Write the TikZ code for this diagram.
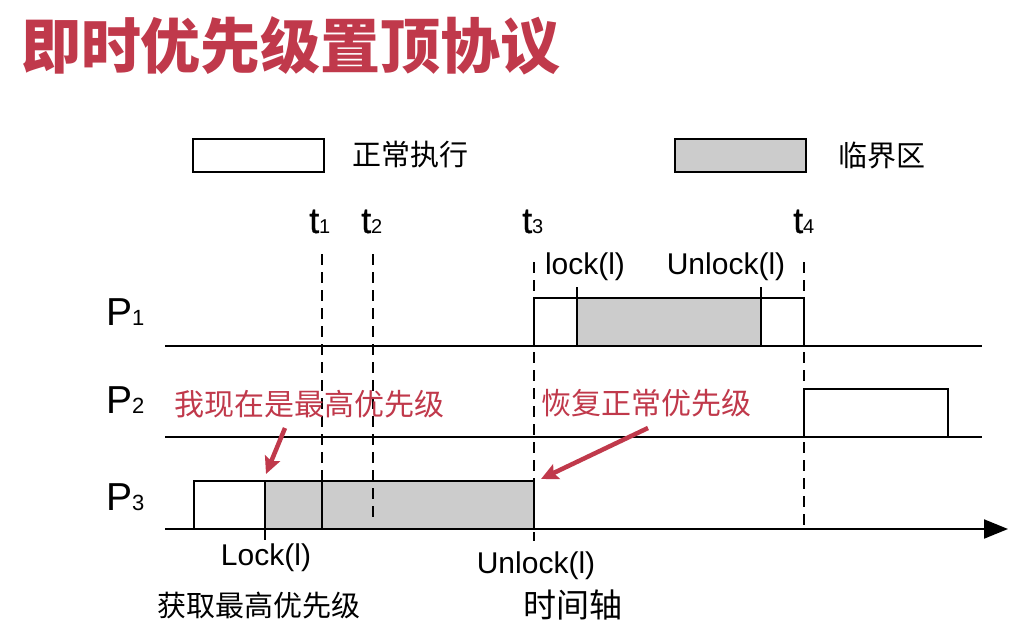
\documentclass[tikz,border=0pt]{standalone}
\usepackage{fontspec}
\setmainfont{Liberation Sans}
\newfontfamily\cjk{Noto Sans CJK SC}
\newfontfamily\tfont[FakeBold=0.7]{Liberation Sans}
\usetikzlibrary{arrows.meta}
\definecolor{accent}{RGB}{192,57,75}
\definecolor{crit}{RGB}{204,204,204}
\begin{document}
\begin{tikzpicture}[x=1pt,y=-1pt,
  track/.style={line width=2pt},
  guide/.style={line width=2pt,dash pattern=on 11pt off 7pt},
  runbox/.style={draw,line width=2.5pt,fill=white},
  critbox/.style={draw,line width=2.5pt,fill=crit},
  tickline/.style={line width=2.5pt},
  lbl/.style={inner sep=0pt,font=\fontsize{30}{30}\selectfont},
  zh/.style={inner sep=0pt,font=\cjk\fontsize{29}{29}\selectfont},
  note/.style={inner sep=0pt,font=\cjk\fontsize{30}{30}\selectfont,text=accent},
  pointer/.style={draw=accent,line width=4.5pt,-{Stealth[length=17pt,width=16pt,inset=3pt]}},
  tlab/.style={anchor=base west,inner sep=0pt},
]
\useasboundingbox (0,0) rectangle (1026,625);

% title
\node[inner sep=0pt,text=accent,font=\cjk\bfseries\fontsize{60}{60}\selectfont] (title) at (291,46) {即时优先级置顶协议};

% legend
\node[runbox,minimum width=131pt,minimum height=33pt,inner sep=0pt] (legrun) at (258.5,155.5) {};
\node[zh] (legruntext) at (410,155) {正常执行};
\node[critbox,minimum width=131pt,minimum height=33pt,inner sep=0pt] (legcrit) at (740.5,155.5) {};
\node[zh] (legcrittext) at (882,155) {临界区};

% process labels
\node[tlab] (p1) at (106,325) {\fontsize{39}{39}\selectfont P\fontsize{22}{22}\selectfont 1};
\node[tlab] (p2) at (106,413) {\fontsize{39}{39}\selectfont P\fontsize{22}{22}\selectfont 2};
\node[tlab] (p3) at (106,510) {\fontsize{39}{39}\selectfont P\fontsize{22}{22}\selectfont 3};

% time labels
\node[tlab] (t1) at (309,233) {{\tfont\fontsize{36}{36}\selectfont t}\fontsize{20}{20}\selectfont 1};
\node[tlab] (t2) at (361,233) {{\tfont\fontsize{36}{36}\selectfont t}\fontsize{20}{20}\selectfont 2};
\node[tlab] (t3) at (522,233) {{\tfont\fontsize{36}{36}\selectfont t}\fontsize{20}{20}\selectfont 3};
\node[tlab] (t4) at (793,233) {{\tfont\fontsize{36}{36}\selectfont t}\fontsize{20}{20}\selectfont 4};

% coordinates
\coordinate (l1a) at (165,346); \coordinate (l1b) at (982,346);
\coordinate (l2a) at (165,437); \coordinate (l2b) at (982,437);
\coordinate (axa) at (165,529); \coordinate (axb) at (1008,529);

\coordinate (g1a) at (322,254); \coordinate (g1b) at (322,481);
\coordinate (g2a) at (373,254); \coordinate (g2b) at (373,523);
\coordinate (g3a) at (534,262); \coordinate (g3b) at (534,541);
\coordinate (g4a) at (804,262); \coordinate (g4b) at (804,527);

% tracks
\draw[track] (l1a) -- (l1b);
\draw[track] (l2a) -- (l2b);
\draw[track,-{Triangle[length=24pt,width=19pt]}] (axa) -- (axb);

% guides (behind boxes)
\draw[guide] (g1a) -- (g1b);
\draw[guide] (g3a) -- (g3b);
\draw[guide] (g4a) -- (g4b);

% P1 box
\draw[runbox] (534,298) rectangle (804,346);
\draw[critbox] (577,298) rectangle (761,346);
\coordinate (lk1a) at (577,287); \coordinate (lk1b) at (577,298);
\coordinate (ul1a) at (761,287); \coordinate (ul1b) at (761,298);
\draw[tickline] (lk1a) -- (lk1b);
\draw[tickline] (ul1a) -- (ul1b);

% P2 box
\draw[runbox] (804,389) rectangle (948,437);

% P3 box
\draw[runbox] (194,481) rectangle (534,529);
\draw[critbox] (265,481) rectangle (534,529);
\coordinate (s1a) at (322,481); \coordinate (s1b) at (322,529);
\draw[tickline] (s1a) -- (s1b);
\coordinate (lk3a) at (265,529); \coordinate (lk3b) at (265,540);
\draw[tickline] (lk3a) -- (lk3b);

% t2 guide in front
\draw[guide] (g2a) -- (g2b);

% lock labels
\node[lbl] (lock1) at (585,267) {lock(l)};
\node[lbl] (unlock1) at (726,267) {Unlock(l)};
\node[lbl] (lock3) at (266,558) {Lock(l)};
\node[lbl] (unlock3) at (536,566) {Unlock(l)};
\node[zh] (gain) at (259,605) {获取最高优先级};
\node[inner sep=0pt,font=\cjk\fontsize{33}{33}\selectfont] (axis) at (573,605) {时间轴};

% notes
\node[note] (note1) at (309,404) {我现在是最高优先级};
\node[note] (note2) at (646,403) {恢复正常优先级};
\coordinate (a1s) at (285,428); \coordinate (a1e) at (266,474);
\coordinate (a2s) at (648,428); \coordinate (a2e) at (541,479);
\draw[pointer] (a1s) -- (a1e);
\draw[pointer] (a2s) -- (a2e);
\end{tikzpicture}
\end{document}
